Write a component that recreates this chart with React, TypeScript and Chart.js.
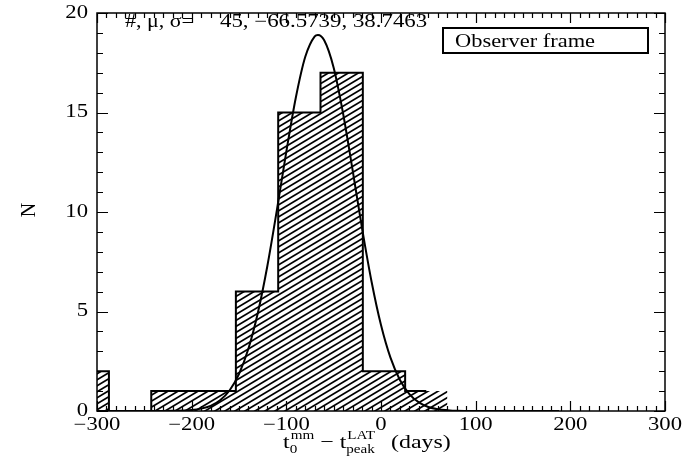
import React, { useEffect, useRef } from "react";
import { Chart, registerables } from "chart.js";

Chart.register(...registerables);

// ---- data ----
const binEdges = [-332.1, -287.4, -242.7, -198.0, -153.3, -108.6, -63.9, -19.2, 25.5, 70.2];
const binCounts = [2, 0, 1, 1, 6, 15, 17, 2, 1];
const curveX = [-300, -250, -220, -200, -190, -180, -170, -160, -150, -140, -130, -120, -110, -100, -90, -80, -70, -66.6, -60, -50, -40, -30, -20, -10, 0, 10, 20, 30, 40, 50, 60, 70, 80, 100, 140, 188];
const curveY = [0, 0, 0.01, 0.05, 0.12, 0.26, 0.54, 1.03, 1.86, 3.14, 4.95, 7.3, 10.09, 13.03, 15.74, 17.8, 18.83, 18.9, 18.63, 17.25, 14.94, 12.11, 9.18, 6.51, 4.32, 2.68, 1.56, 0.85, 0.43, 0.2, 0.09, 0.04, 0.01, 0, 0, 0];
const xTickValues = [-300, -200, -100, 0, 100, 200, 300];
const yTickValues = [0, 5, 10, 15, 20];
const statsLabel = "#, \u03bc, \u03c3=";
const statsValues = "45, \u221266.5739, 38.7463";
const legendLabel = "Observer frame";
const yTitle = "N";

const SERIF = '"Liberation Serif", "DejaVu Serif", serif';
const SX = 1.26;

function txt(ctx: CanvasRenderingContext2D, s: string, x: number, y: number, size: number, align = "left", sx = SX) {
  ctx.save();
  ctx.font = `${size}px ${SERIF}`;
  const w = ctx.measureText(s).width * sx;
  let x0 = x;
  if (align === "center") x0 = x - w / 2;
  else if (align === "right") x0 = x - w;
  ctx.translate(x0, y);
  ctx.scale(sx, 1);
  ctx.textAlign = "left";
  ctx.fillStyle = "#000";
  ctx.fillText(s, 0, 0);
  ctx.restore();
  return w;
}

function makeHatch(): CanvasPattern | string {
  const c = document.createElement("canvas");
  c.width = 10;
  c.height = 6;
  const g = c.getContext("2d");
  if (!g) return "rgba(0,0,0,0.3)";
  g.strokeStyle = "#000";
  g.lineWidth = 1.7;
  for (const k of [-6, 0, 6]) {
    g.beginPath();
    g.moveTo(-2, 6 + k + 1.2);
    g.lineTo(12, 6 + k - 7.2);
    g.stroke();
  }
  return g.createPattern(c, "repeat") || "rgba(0,0,0,0.3)";
}

const decorPlugin = {
  id: "decor",
  afterDraw(chart: any) {
    const ctx: CanvasRenderingContext2D = chart.ctx;
    const { left, right, top, bottom } = chart.chartArea;
    const xs = chart.scales.x;
    const ys = chart.scales.y;
    ctx.save();
    ctx.strokeStyle = "#000";
    ctx.lineWidth = 1.5;
    ctx.strokeRect(left, top, right - left, bottom - top);
    ctx.lineWidth = 1.2;
    ctx.beginPath();
    for (let v = -300; v <= 300; v += 10) {
      const p = Math.round(xs.getPixelForValue(v)) + 0.5;
      const len = v % 100 === 0 ? 10 : 5;
      ctx.moveTo(p, bottom);
      ctx.lineTo(p, bottom - len);
      ctx.moveTo(p, top);
      ctx.lineTo(p, top + len);
    }
    for (let v = 0; v <= 20; v += 1) {
      const p = Math.round(ys.getPixelForValue(v)) + 0.5;
      const len = v % 5 === 0 ? 11 : 6;
      ctx.moveTo(left, p);
      ctx.lineTo(left + len, p);
      ctx.moveTo(right, p);
      ctx.lineTo(right - len, p);
    }
    ctx.stroke();

    // tick labels
    ctx.textBaseline = "alphabetic";
    for (const v of xTickValues) {
      txt(ctx, String(v).replace("-", "\u2212"), xs.getPixelForValue(v), bottom + 19, 18, "center");
    }
    ctx.textBaseline = "middle";
    for (const v of yTickValues) {
      txt(ctx, String(v), left - 9, ys.getPixelForValue(v), 18, "right");
    }

    // y title
    ctx.save();
    ctx.translate(35, 210);
    ctx.rotate(-Math.PI / 2);
    ctx.font = `20px ${SERIF}`;
    ctx.textAlign = "center";
    ctx.textBaseline = "alphabetic";
    ctx.fillStyle = "#000";
    ctx.fillText(yTitle, 0, 0);
    ctx.restore();

    // x title with sub/superscripts
    ctx.textBaseline = "alphabetic";
    let x = 283;
    const yb = 448;
    x += txt(ctx, "t", x, yb, 19);
    let a = txt(ctx, "0", x, yb + 5, 12);
    let b = txt(ctx, "mm", x + 1, yb - 9, 12);
    x += Math.max(a, b + 1);
    x += txt(ctx, " \u2212 t", x, yb, 19);
    a = txt(ctx, "peak", x, yb + 5, 12);
    b = txt(ctx, "LAT", x + 1, yb - 9, 12);
    x += Math.max(a, b + 1);
    txt(ctx, "   (days)", x - 2, yb, 19);

    // stats annotation
    txt(ctx, statsLabel, 125, 27, 18, "left", 1.22);
    txt(ctx, statsValues, 220, 27, 18, "left", 1.27);

    // legend box
    ctx.lineWidth = 2;
    ctx.strokeRect(443, 28, 205, 25);
    txt(ctx, legendLabel, 455, 47, 19, "left", 1.18);
    ctx.restore();
  },
};

export default function App() {
  const ref = useRef<HTMLCanvasElement | null>(null);
  useEffect(() => {
    document.body.style.margin = "0";
    const canvas = ref.current;
    if (!canvas) return;
    const fillPts = binCounts.map((c, i) => ({ x: binEdges[i], y: c }));
    fillPts.push({ x: binEdges[binEdges.length - 1], y: 0 });
    const outlinePts = binCounts.map((c, i) => ({ x: (binEdges[i] + binEdges[i + 1]) / 2, y: c }));
    const curvePts = curveX.map((v, i) => ({ x: v, y: curveY[i] }));
    const chart = new Chart(canvas, {
      type: "line",
      data: {
        datasets: [
          {
            data: curvePts,
            borderColor: "#000",
            borderWidth: 2,
            pointRadius: 0,
            fill: false,
            cubicInterpolationMode: "monotone",
          },
          {
            data: outlinePts,
            borderColor: "#000",
            borderWidth: 2,
            pointRadius: 0,
            fill: false,
            stepped: "middle",
          },
          {
            data: fillPts,
            borderColor: "rgba(0,0,0,0)",
            borderWidth: 0,
            pointRadius: 0,
            backgroundColor: makeHatch() as any,
            fill: "origin",
            stepped: "before",
          },
        ],
      },
      options: {
        responsive: false,
        animation: false,
        layout: { padding: { left: 0, right: 25, top: 13, bottom: 0 } },
        plugins: { legend: { display: false }, tooltip: { enabled: false } },
        scales: {
          x: {
            type: "linear",
            min: -300,
            max: 300,
            grid: { display: false },
            border: { display: false },
            ticks: { display: false },
            afterFit: (s: any) => {
              s.height = 49;
            },
          },
          y: {
            type: "linear",
            min: 0,
            max: 20,
            grid: { display: false },
            border: { display: false },
            ticks: { display: false },
            afterFit: (s: any) => {
              s.width = 97;
            },
          },
        },
      },
      plugins: [decorPlugin],
    } as any);
    return () => chart.destroy();
  }, []);
  return (
    <div style={{ width: 690, height: 460, background: "#fff" }}>
      <canvas ref={ref} width={690} height={460} />
    </div>
  );
}
